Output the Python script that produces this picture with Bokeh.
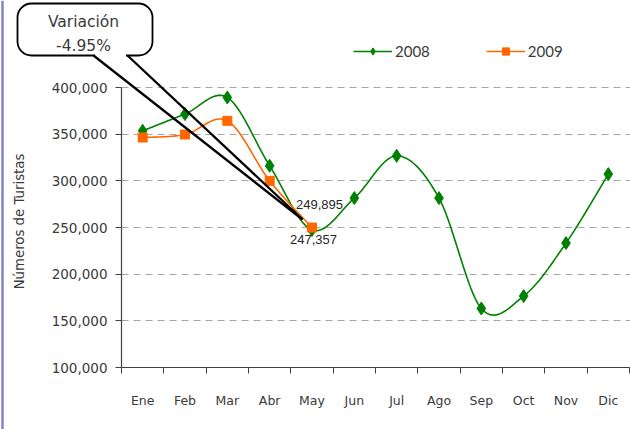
import numpy as np
from bokeh.plotting import figure
from bokeh.models import (Range1d, FixedTicker, ColumnDataSource, Legend, LegendItem,
                          BoxAnnotation, Label, Arrow, NumeralTickFormatter, LinearAxis, Grid, Span)
from bokeh.core.properties import value
from bokeh.embed import file_html
from bokeh.resources import INLINE

# ---------------- data ----------------
months = ["Ene", "Feb", "Mar", "Abr", "May", "Jun", "Jul", "Ago", "Sep", "Oct", "Nov", "Dic"]
turistas_2008 = [353600, 371500, 389300, 316100, 247357, 281500, 326800, 281500, 163200, 176500, 233300, 307200]
turistas_2009 = [346400, 349600, 364300, 300000, 249895]
y_ticks = [100000, 150000, 200000, 250000, 300000, 350000, 400000]
series_names = ["2008", "2009"]
y_axis_title = "Números de Turistas"
callout_title = "Variación"
callout_value = "-4.95%"

GREEN = "#008000"
ORANGE = "#ff6600"
TEXT = "#3a3a3a"
AXIS = "#404040"

# ---------------- geometry (canvas px -> data, used for ranges & annotations) ----------------
W, H = 630, 429
AXIS_X_PX = 121.0          # where x = 0.5 sits
AXIS_Y_PX = 367.0          # where y = 100000 sits
PX_PER_MONTH = 508.0 / 12.0
PX_PER_UNIT = 280.0 / 300000.0


def dx(px):
    return 0.5 + (px - AXIS_X_PX) / PX_PER_MONTH


def dy(py):
    return y_ticks[0] + (AXIS_Y_PX - py) / PX_PER_UNIT


def smooth(xs, ys, n=24):
    xs = np.asarray(xs, float)
    ys = np.asarray(ys, float)
    m = len(xs)
    out_x, out_y = [], []
    for i in range(m - 1):
        x0, y0 = (xs[i - 1], ys[i - 1]) if i > 0 else (xs[i], ys[i])
        x3, y3 = (xs[i + 2], ys[i + 2]) if i + 2 < m else (xs[i + 1], ys[i + 1])
        x1, y1 = xs[i], ys[i]
        x2, y2 = xs[i + 1], ys[i + 1]
        c1x, c1y = x1 + (x2 - x0) / 6.0, y1 + (y2 - y0) / 6.0
        c2x, c2y = x2 - (x3 - x1) / 6.0, y2 - (y3 - y1) / 6.0
        t = np.linspace(0, 1, n, endpoint=(i == m - 2))
        a = (1 - t) ** 3
        b = 3 * (1 - t) ** 2 * t
        c = 3 * (1 - t) * t ** 2
        d = t ** 3
        out_x.extend(a * x1 + b * c1x + c * c2x + d * x2)
        out_y.extend(a * y1 + b * c1y + c * c2y + d * y2)
    return out_x, out_y


x08 = list(range(1, len(turistas_2008) + 1))
x09 = list(range(1, len(turistas_2009) + 1))

p = figure(width=W, height=H, output_backend="svg", toolbar_location=None,
           x_range=Range1d(dx(0), dx(W)), y_range=Range1d(dy(H), dy(0)),
           x_axis_location=None, y_axis_location=None, min_border=0)
p.outline_line_color = None
p.background_fill_color = "white"
p.border_fill_color = "white"
for g in p.grid:
    g.visible = False

# chart-area border on the left edge
p.add_layout(Span(location=dx(2), dimension="height", line_color="#8484c0", line_width=2.5))

# ---------------- axes ----------------
x_ticker = FixedTicker(ticks=x08, minor_ticks=[0.5 + i for i in range(13)])
xaxis = LinearAxis(ticker=x_ticker, fixed_location=y_ticks[0], bounds=(0.5, 12.5))
xaxis.major_label_overrides = {i + 1: m for i, m in enumerate(months)}
xaxis.major_tick_out = 0
xaxis.major_tick_in = 0
xaxis.minor_tick_out = 6
xaxis.minor_tick_in = 0
xaxis.minor_tick_line_color = AXIS
xaxis.major_label_standoff = 19
xaxis.major_label_text_font = "DejaVu Sans"
xaxis.major_label_text_font_size = "12.5px"
xaxis.major_label_text_color = TEXT
xaxis.axis_line_color = AXIS
xaxis.axis_line_width = 1.2
p.add_layout(xaxis, "below")

y_ticker = FixedTicker(ticks=y_ticks, minor_ticks=[])
yaxis = LinearAxis(ticker=y_ticker, fixed_location=0.5, bounds=(y_ticks[0], y_ticks[-1]))
yaxis.formatter = NumeralTickFormatter(format="0,0")
yaxis.major_tick_out = 6
yaxis.major_tick_in = 0
yaxis.major_tick_line_color = AXIS
yaxis.minor_tick_line_color = None
yaxis.major_label_standoff = 8
yaxis.major_label_text_font = "DejaVu Sans"
yaxis.major_label_text_font_size = "13.5px"
yaxis.major_label_text_color = TEXT
yaxis.axis_line_color = AXIS
yaxis.axis_line_width = 1.2
p.add_layout(yaxis, "left")

ygrid = Grid(dimension=1, ticker=y_ticker, bounds=(y_ticks[1], y_ticks[-1]),
             cross_bounds=(0.5, dx(W)),
             grid_line_color="#a6a6a6", grid_line_dash="7 5", grid_line_width=1)
p.add_layout(ygrid, "center")

# ---------------- series ----------------
sx08, sy08 = smooth(x08, turistas_2008)
sx09, sy09 = smooth(x09, turistas_2009)
l08 = p.line(sx08, sy08, line_color=GREEN, line_width=1.6)
l09 = p.line(sx09, sy09, line_color=ORANGE, line_width=1.6)
s08 = p.scatter(x08, turistas_2008, marker="diamond", size=13, fill_color=GREEN, line_color=GREEN)
s09 = p.scatter(x09, turistas_2009, marker="square", size=9, fill_color=ORANGE, line_color=ORANGE)

# data labels for May
may = 5
lab_src = ColumnDataSource(dict(
    x=[may, may],
    y=[turistas_2009[may - 1], turistas_2008[may - 1]],
    text=[f"{turistas_2009[may - 1]:,}", f"{turistas_2008[may - 1]:,}"],
    xo=[7.5, 1.5],
    yo=[-23, 9.5],
))
p.text(x="x", y="y", text="text", x_offset="xo", y_offset="yo", source=lab_src,
       text_align="center", text_baseline="middle", text_font=value("Liberation Sans"),
       text_font_size="13px", text_color="#262626")

# ---------------- legend ----------------
legend = Legend(items=[LegendItem(label=series_names[0], renderers=[l08, s08]),
                       LegendItem(label=series_names[1], renderers=[l09, s09])],
                orientation="horizontal", location=(353, H - 60),
                glyph_width=39, glyph_height=18, label_height=18, label_standoff=3,
                spacing=56, padding=0, margin=0, border_line_color=None,
                background_fill_alpha=0, label_text_font="Lato",
                label_text_font_size="15px", label_text_color=TEXT)
p.add_layout(legend)

# ---------------- callout ----------------
box = BoxAnnotation(left=dx(17), right=dx(152), top=dy(3), bottom=dy(55),
                    fill_color="white", fill_alpha=1.0, line_color="black", line_alpha=1.0,
                    line_width=1.8, border_radius=14)
p.add_layout(box)
p.add_layout(Arrow(end=None, x_start=dx(94.5), y_start=dy(55), x_end=dx(125.5), y_end=dy(55),
                   line_color="white", line_width=3.5))
tip_x, tip_y = dx(302), dy(219)
p.add_layout(Arrow(end=None, x_start=dx(93), y_start=dy(55), x_end=tip_x, y_end=tip_y,
                   line_color="black", line_width=2.3))
p.add_layout(Arrow(end=None, x_start=dx(127), y_start=dy(55), x_end=tip_x, y_end=tip_y,
                   line_color="black", line_width=2.3))
p.add_layout(Label(x=dx(83), y=dy(21), text=callout_title, text_align="center",
                   text_baseline="middle", text_font="DejaVu Sans", text_font_size="15.5px",
                   text_color=TEXT))
p.add_layout(Label(x=dx(83), y=dy(45), text=callout_value, text_align="center",
                   text_baseline="middle", text_font="DejaVu Sans", text_font_size="15.5px",
                   text_color=TEXT))

# y-axis title
p.add_layout(Label(x=dx(19), y=dy(221), text=y_axis_title, angle=np.pi / 2,
                   text_align="center", text_baseline="middle", text_font="DejaVu Sans",
                   text_font_size="13.3px", text_color=TEXT))

open("out.html", "w").write(file_html(p, INLINE))
